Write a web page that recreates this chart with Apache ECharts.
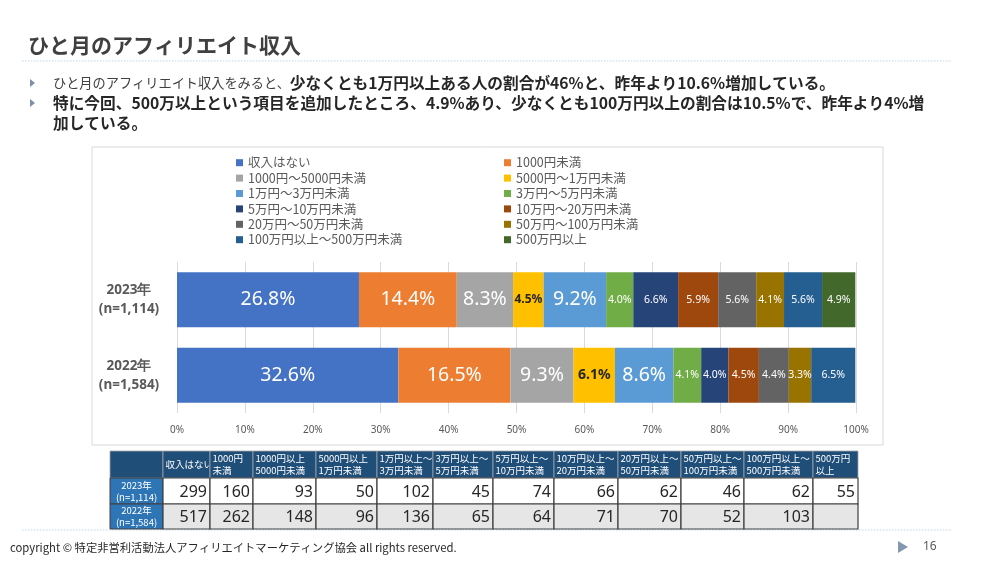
<!DOCTYPE html>
<html><head><meta charset="utf-8">
<script src="https://cdn.jsdelivr.net/npm/echarts@6/dist/echarts.min.js"></script>
<style>html,body{margin:0;padding:0;background:#fff}#c{width:1000px;height:580px}</style>
</head><body><div id="c"></div><script>
// ---- data ----
const categories = ['2023年\n(n=1,114)', '2022年\n(n=1,584)'];
const seriesNames = ['収入はない', '1000円未満', '1000円～5000円未満', '5000円～1万円未満',
  '1万円～3万円未満', '3万円～5万円未満', '5万円～10万円未満', '10万円～20万円未満',
  '20万円～50万円未満', '50万円～100万円未満', '100万円以上～500万円未満', '500万円以上'];
const pct2023 = [26.8, 14.4, 8.3, 4.5, 9.2, 4.0, 6.6, 5.9, 5.6, 4.1, 5.6, 4.9];
const pct2022 = [32.6, 16.5, 9.3, 6.1, 8.6, 4.1, 4.0, 4.5, 4.4, 3.3, 6.5, null];
const xTicks = [0, 10, 20, 30, 40, 50, 60, 70, 80, 90, 100];
const tableHeaders = ['収入はない', '1000円\n未満', '1000円以上\n5000円未満', '5000円以上\n1万円未満',
  '1万円以上～\n3万円未満', '3万円以上～\n5万円未満', '5万円以上～\n10万円未満', '10万円以上～\n20万円未満',
  '20万円以上～\n50万円未満', '50万円以上～\n100万円未満', '100万円以上～\n500万円未満', '500万円\n以上'];
const tableRowHeaders = ['2023年\n(n=1,114)', '2022年\n(n=1,584)'];
const counts2023 = [299, 160, 93, 50, 102, 45, 74, 66, 62, 46, 62, 55];
const counts2022 = [517, 262, 148, 96, 136, 65, 64, 71, 70, 52, 103, null];
const titleText = 'ひと月のアフィリエイト収入';
const bullet1Normal = 'ひと月のアフィリエイト収入をみると、';
const bullet1Bold = '少なくとも1万円以上ある人の割合が46%と、昨年より10.6%増加している。';
const bullet2Line1 = '特に今回、500万以上という項目を追加したところ、4.9%あり、少なくとも100万円以上の割合は10.5%で、昨年より4%増';
const bullet2Line2 = '加している。';
const footerText = 'copyright © 特定非営利活動法人アフィリエイトマーケティング協会 all rights reserved.';
const pageNo = '16';

// ---- styles ----
const colors = ['#4472C4', '#ED7D31', '#A5A5A5', '#FFC000', '#5B9BD5', '#70AD47',
  '#264478', '#9E480E', '#636363', '#997300', '#255E91', '#43682B'];
const JP = '"Noto Sans CJK JP", "Noto Sans", sans-serif';
const NUM = '"Noto Sans", "Open Sans", sans-serif';
const largeSeries = [0, 1, 2, 4];

function labelStyle(si, yi) {
  if (largeSeries.includes(si)) return {fontSize: 19.5, color: '#fff'};
  if (si === 3) return {fontSize: yi === 0 ? 12 : 14, color: '#262626', fontWeight: 'bold'};
  return {fontSize: 10.5, color: '#fff'};
}

const series = seriesNames.map((name, si) => ({
  name, type: 'bar', stack: 'total', barWidth: 55,
  itemStyle: {color: colors[si]},
  emphasis: {disabled: true},
  label: {show: true, position: 'inside', fontFamily: NUM,
    formatter: p => (p.value == null ? '' : Number(p.value).toFixed(1) + '%')},
  data: [pct2023[si], pct2022[si]].map((v, yi) => v == null ? {value: null} : {value: v, label: labelStyle(si, yi)})
}));

// ---- table graphics ----
const colX = [110, 163, 210, 253, 316, 377, 433, 493, 554, 618, 681, 744, 813, 858];
const rowY = [451, 478, 504, 529];
const g = [];
// chart frame
g.push({type: 'rect', shape: {x: 92, y: 147, width: 791, height: 298}, style: {fill: 'none', stroke: '#D9D9D9', lineWidth: 1}, z: -10});
// dotted lines
g.push({type: 'line', shape: {x1: 22, y1: 61, x2: 951, y2: 61}, style: {stroke: '#BDD7EE', lineWidth: 1.2, lineDash: [1.5, 1.5]}});
g.push({type: 'line', shape: {x1: 22, y1: 530, x2: 951, y2: 530}, style: {stroke: '#BDD7EE', lineWidth: 1.2, lineDash: [1.5, 1.5]}, z: -5});
// title
g.push({type: 'text', x: 28, y: 45, style: {text: titleText, verticalAlign: 'middle', font: 'bold 21px ' + JP, fill: '#404040'}});
// bullets
[83, 103].forEach(y => g.push({type: 'polygon', shape: {points: [[30, y - 4], [35, y], [30, y + 4]]}, style: {fill: '#7F8FA9'}}));
g.push({type: 'text', x: 53, y: 83, style: {
  text: '{n|' + bullet1Normal + '}{b|' + bullet1Bold + '}', verticalAlign: 'middle',
  rich: {n: {font: '13.2px ' + JP, fill: '#404040'}, b: {font: 'bold 15.7px ' + JP, fill: '#262626'}}}});
g.push({type: 'text', x: 53, y: 103, style: {text: bullet2Line1, verticalAlign: 'middle', font: 'bold 15.7px ' + JP, fill: '#262626'}});
g.push({type: 'text', x: 53, y: 123, style: {text: bullet2Line2, verticalAlign: 'middle', font: 'bold 15.7px ' + JP, fill: '#262626'}});
// table
const rowsData = [counts2023, counts2022];
for (let c = 0; c < colX.length - 1; c++) {
  const x0 = colX[c], x1 = colX[c + 1];
  g.push({type: 'rect', shape: {x: x0, y: rowY[0], width: x1 - x0, height: rowY[1] - rowY[0]}, style: {fill: '#1F4E79', stroke: '#A6A6A6', lineWidth: 0.8}});
  if (c > 0) {
    g.push({type: 'text', x: x0 + 2.5, y: (rowY[0] + rowY[1]) / 2, style: {text: tableHeaders[c - 1], verticalAlign: 'middle', align: 'left', font: '9.5px ' + JP, fill: '#fff', lineHeight: 12}});
  }
  for (let r = 0; r < 2; r++) {
    const y0 = rowY[r + 1], y1 = rowY[r + 2];
    if (c === 0) {
      g.push({type: 'rect', shape: {x: x0, y: y0, width: x1 - x0, height: y1 - y0}, style: {fill: '#2E75B6', stroke: '#404040', lineWidth: 1}});
      g.push({type: 'text', x: (x0 + x1) / 2, y: (y0 + y1) / 2, style: {text: tableRowHeaders[r], align: 'center', verticalAlign: 'middle', font: '9.5px ' + JP, fill: '#fff', lineHeight: 12}});
    } else {
      g.push({type: 'rect', shape: {x: x0, y: y0, width: x1 - x0, height: y1 - y0}, style: {fill: r === 0 ? '#FFFFFF' : '#E7E6E6', stroke: '#404040', lineWidth: 1.2}});
      const v = rowsData[r][c - 1];
      if (v != null) g.push({type: 'text', x: x1 - 3, y: (y0 + y1) / 2 + 1, style: {text: String(v), align: 'right', verticalAlign: 'middle', font: '16px ' + NUM, fill: '#262626'}});
    }
  }
}
// footer
g.push({type: 'text', x: 10, y: 548, style: {text: footerText, verticalAlign: 'middle', font: '11.3px ' + JP, fill: '#262626'}});
g.push({type: 'polygon', shape: {points: [[898, 541], [908, 547], [898, 553]]}, style: {fill: '#8497B0'}});
g.push({type: 'text', x: 923, y: 547, style: {text: pageNo, verticalAlign: 'middle', font: '12px ' + NUM, fill: '#595959'}});

const legendCommon = {
  orient: 'vertical', icon: 'rect', itemWidth: 7, itemHeight: 7, itemGap: 2, selectedMode: false,
  textStyle: {fontSize: 12.5, color: '#595959', fontFamily: JP, lineHeight: 13.4}
};

const option = {
  backgroundColor: '#fff',
  animation: false,
  color: colors,
  graphic: g,
  legend: [
    Object.assign({left: 231, top: 151, data: seriesNames.filter((_, i) => i % 2 === 0)}, legendCommon),
    Object.assign({left: 499, top: 151, data: seriesNames.filter((_, i) => i % 2 === 1)}, legendCommon)
  ],
  grid: {left: 177, right: 144, top: 262, bottom: 167, containLabel: false, outerBoundsMode: 'none'},
  xAxis: {
    type: 'value', min: xTicks[0], max: xTicks[xTicks.length - 1], interval: xTicks[1] - xTicks[0],
    axisLine: {show: false}, axisTick: {show: false},
    splitLine: {show: true, lineStyle: {color: '#D9D9D9', width: 1}},
    axisLabel: {formatter: '{value}%', fontSize: 10, color: '#595959', fontFamily: NUM, margin: 12}
  },
  yAxis: {
    type: 'category', data: categories, inverse: true,
    axisLine: {show: false}, axisTick: {show: false},
    axisLabel: {align: 'center', margin: 48, fontSize: 13.5, fontWeight: 'bold', color: '#595959', fontFamily: NUM, lineHeight: 19}
  },
  series
};
const chart = echarts.init(document.getElementById('c'), null, {renderer: 'canvas'});
chart.setOption(option);
</script></body></html>
